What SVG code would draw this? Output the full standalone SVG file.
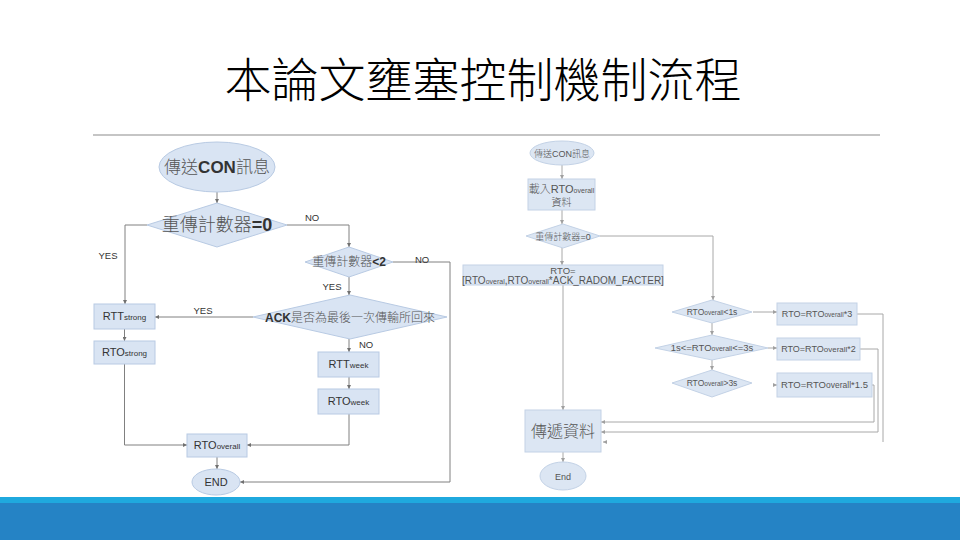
<svg xmlns="http://www.w3.org/2000/svg" width="960" height="540" viewBox="0 0 960 540">
<style>
.node{fill:#D9E4F3;stroke:#B8CAE3;stroke-width:1}
.nodeR{fill:#DCE6F3;stroke:#C3D2E6;stroke-width:1}
.ln{fill:none;stroke:#808080;stroke-width:1}
.lnR{fill:none;stroke:#A8A8A8;stroke-width:1}
.t{font-family:"Liberation Sans","Noto Sans CJK TC",sans-serif;fill:#333;text-anchor:middle}
.tr{font-family:"Liberation Sans","Noto Sans CJK TC",sans-serif;fill:#555;text-anchor:middle}
.cj{font-family:"Noto Sans CJK TC",sans-serif;font-weight:300;fill:#555}
.lb{font-family:"Liberation Sans",sans-serif;font-size:9.5px;fill:#333;text-anchor:middle}
</style>
<defs>
<marker id="a" viewBox="0 0 6 6" refX="6" refY="3" markerWidth="4" markerHeight="4" orient="auto">
<path d="M0,0 L6,3 L0,6 z" fill="#707070"/>
</marker>
<marker id="ar" viewBox="0 0 6 6" refX="6" refY="3" markerWidth="4" markerHeight="4" orient="auto">
<path d="M0,0 L6,3 L0,6 z" fill="#A0A0A0"/>
</marker>
</defs>
<rect width="960" height="540" fill="#fff"/>
<text x="483" y="97" font-family="Noto Sans CJK TC,sans-serif" font-weight="300" font-size="47" text-anchor="middle" fill="#000">本論文壅塞控制機制流程</text>
<line x1="93" y1="135" x2="880" y2="135" stroke="#8c8c8c" stroke-width="1.2"/>
<rect x="0" y="497" width="960" height="7" fill="#1FA9DE"/>
<rect x="0" y="503" width="960" height="37" fill="#2583C5"/>

<g id="connectors">
<path class="ln" d="M217,192 V203" marker-end="url(#a)"/>
<path class="ln" d="M287,225 H349 V247" marker-end="url(#a)"/>
<path class="ln" d="M147,225 H125 V304" marker-end="url(#a)"/>
<path class="ln" d="M349,277 V295" marker-end="url(#a)"/>
<path class="ln" d="M253,317 H155" marker-end="url(#a)"/>
<path class="ln" d="M124.5,329 V341" marker-end="url(#a)"/>
<path class="ln" d="M349,339 V352" marker-end="url(#a)"/>
<path class="ln" d="M349,377 V389" marker-end="url(#a)"/>
<path class="ln" d="M124.5,364 V445 H187" marker-end="url(#a)"/>
<path class="ln" d="M349,414 V445 H247" marker-end="url(#a)"/>
<path class="ln" d="M217,457 V469" marker-end="url(#a)"/>
<path class="ln" d="M393,262 H450 V482 H240" marker-end="url(#a)"/>
<text class="lb" x="312" y="221">NO</text>
<text class="lb" x="108" y="259">YES</text>
<text class="lb" x="422" y="263">NO</text>
<text class="lb" x="332" y="290">YES</text>
<text class="lb" x="203" y="314">YES</text>
<text class="lb" x="366" y="348">NO</text>

<path class="lnR" d="M562,165 V179" marker-end="url(#ar)"/>
<path class="lnR" d="M562,210 V224" marker-end="url(#ar)"/>
<path class="lnR" d="M562,248 V265" marker-end="url(#ar)"/>
<path class="lnR" d="M600,236 H713 V300" marker-end="url(#ar)"/>
<path class="lnR" d="M563,285 V410" marker-end="url(#ar)"/>
<path class="lnR" d="M712,323 V335" marker-end="url(#ar)"/>
<path class="lnR" d="M712,360 V370" marker-end="url(#ar)"/>
<path class="lnR" d="M753,312 H777" marker-end="url(#ar)"/>
<path class="lnR" d="M768,348 H777" marker-end="url(#ar)"/>
<path class="lnR" d="M773,385 H777" marker-end="url(#ar)"/>
<path class="lnR" d="M857,314 H883 V442"/>
<path class="lnR" d="M606,442 H603" marker-end="url(#ar)"/>
<path class="lnR" d="M860,349 H878 V432 H601" marker-end="url(#ar)"/>
<path class="lnR" d="M872,385 H874 V422 H601" marker-end="url(#ar)"/>
<path class="lnR" d="M563,452 V462" marker-end="url(#ar)"/>
</g>

<g id="start1"><ellipse class="node" cx="217" cy="167" rx="58" ry="25"/>
<text class="t" x="217" y="173" font-size="17"><tspan class="cj">傳送</tspan><tspan font-weight="bold">CON</tspan><tspan class="cj">訊息</tspan></text></g>
<g id="dec1"><polygon class="node" points="147,225 217,203 287,225 217,247"/>
<text class="t" x="217" y="231" font-size="18"><tspan class="cj">重傳計數器</tspan><tspan font-weight="bold">=0</tspan></text></g>
<g id="dec2"><polygon class="node" points="305,262 349,247 393,262 349,277"/>
<text class="t" x="349" y="266" font-size="12"><tspan class="cj">重傳計數器</tspan><tspan font-weight="bold">&lt;2</tspan></text></g>
<g id="dec3"><polygon class="node" points="253,317 350,295 447,317 350,339"/>
<text class="t" x="350" y="322" font-size="12"><tspan font-weight="bold">ACK</tspan><tspan class="cj">是否為最後一次傳輸所回來</tspan></text></g>
<g id="rttstrong"><rect class="node" x="94" y="304" width="61" height="25"/>
<text class="t" x="124.5" y="320" font-size="11">RTT<tspan font-size="8">strong</tspan></text></g>
<g id="rtostrong"><rect class="node" x="94" y="341" width="61" height="23"/>
<text class="t" x="124.5" y="356" font-size="11">RTO<tspan font-size="8">strong</tspan></text></g>
<g id="rttweek"><rect class="node" x="318" y="352" width="61" height="25"/>
<text class="t" x="348.5" y="368" font-size="11">RTT<tspan font-size="8">week</tspan></text></g>
<g id="rtoweek"><rect class="node" x="318" y="389" width="61" height="25"/>
<text class="t" x="348.5" y="405" font-size="11">RTO<tspan font-size="8">week</tspan></text></g>
<g id="rtooverall"><rect class="node" x="187" y="434" width="60" height="23"/>
<text class="t" x="217" y="449" font-size="11">RTO<tspan font-size="8">overall</tspan></text></g>
<g id="end1"><ellipse class="node" cx="216" cy="482" rx="24" ry="13"/>
<text class="t" x="216" y="486" font-size="11">END</text></g>

<g id="start2"><ellipse class="nodeR" cx="562" cy="153" rx="32" ry="12"/>
<text class="tr" x="562" y="157" font-size="9"><tspan class="cj">傳送</tspan>CON<tspan class="cj">訊息</tspan></text></g>
<g id="load"><rect class="nodeR" x="528" y="179" width="67" height="31"/>
<text class="tr" x="561.5" y="193" font-size="11"><tspan class="cj">載入</tspan>RTO<tspan font-size="7">overall</tspan></text>
<text class="tr" x="561.5" y="206" font-size="10"><tspan class="cj">資料</tspan></text></g>
<g id="dec4"><polygon class="nodeR" points="526,236 563,224 600,236 563,248"/>
<text class="tr" x="563" y="240" font-size="9"><tspan class="cj">重傳計數器</tspan>=0</text></g>
<g id="rtoinit"><rect class="nodeR" x="463" y="265" width="200" height="20"/>
<text class="tr" x="563" y="274" font-size="9.5">RTO=</text>
<text class="tr" x="563" y="284" font-size="10">[RTO<tspan font-size="7">overal</tspan>,RTO<tspan font-size="7">overall</tspan>*ACK_RADOM_FACTER]</text></g>
<g id="dec5"><polygon class="nodeR" points="672,312 712,300 752,312 712,323"/>
<text class="tr" x="712" y="315" font-size="8.5">RTO<tspan font-size="6.5">overall</tspan>&lt;1s</text></g>
<g id="dec6"><polygon class="nodeR" points="655,348 712,335 768,348 712,360"/>
<text class="tr" x="712" y="351" font-size="9.5">1s&lt;=RTO<tspan font-size="7">overall</tspan>&lt;=3s</text></g>
<g id="dec7"><polygon class="nodeR" points="672,383 712,370 752,383 712,397"/>
<text class="tr" x="712" y="386" font-size="8.5">RTO<tspan font-size="6.5">overall</tspan>&gt;3s</text></g>
<g id="r3"><rect class="nodeR" x="777" y="303" width="80" height="22"/>
<text class="tr" x="817" y="317" font-size="9">RTO=RTO<tspan font-size="6.5">overall</tspan>*3</text></g>
<g id="r2"><rect class="nodeR" x="777" y="338" width="83" height="22"/>
<text class="tr" x="818.5" y="352" font-size="9">RTO=RTO<tspan font-size="8">overall</tspan>*2</text></g>
<g id="r15"><rect class="nodeR" x="777" y="373" width="95" height="24"/>
<text class="tr" x="824.5" y="388" font-size="9.5">RTO=RTO<tspan font-size="8.5">overall</tspan>*1.5</text></g>
<g id="send"><rect class="nodeR" x="525" y="410" width="76" height="42"/>
<text class="tr" x="563" y="437" font-size="16"><tspan class="cj">傳遞資料</tspan></text></g>
<g id="end2"><ellipse class="nodeR" cx="563" cy="476" rx="23" ry="14"/>
<text class="tr" x="563" y="480" font-size="9" fill="#333">End</text></g>
</svg>
